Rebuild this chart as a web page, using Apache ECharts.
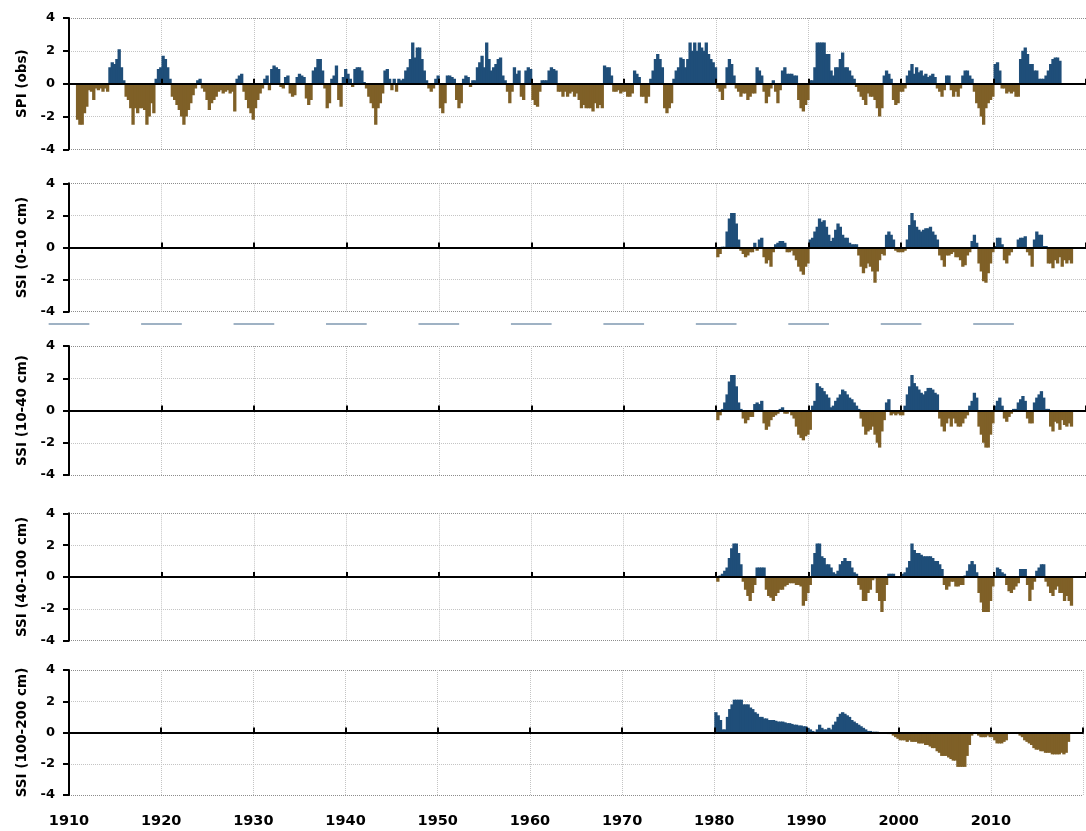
<!DOCTYPE html>
<html>
<head>
<meta charset="utf-8">
<script src="https://cdn.jsdelivr.net/npm/echarts@6/dist/echarts.min.js"></script>
<style>
html,body{margin:0;padding:0;background:#fff;}
#chart{width:1086px;height:831px;}
</style>
</head>
<body>
<div id="chart"></div>
<script>
// ---------------- DATA (quarterly values) ----------------
const STEP = 0.25;          // years per bar
const spiStart = 1910;      // first value of spi
const ssiStart = 1980;      // first value of the SSI series

const panelTitles = ['SPI (obs)', 'SSI (0-10 cm)', 'SSI (10-40 cm)', 'SSI (40-100 cm)', 'SSI (100-200 cm)'];
const decadeLabels = [1910, 1920, 1930, 1940, 1950, 1960, 1970, 1980, 1990, 2000, 2010];
const yTickValues = [-4, -2, 0, 2, 4];

const spi = [
  0, 0, 0, -2.2,            // 1910
  -2.5, -2.5, -1.8, -1.4,   // 1911
  -0.4, -0.5, -1.0, -0.3,   // 1912
  -0.4, -0.3, -0.5, -0.3,   // 1913
  -0.5, 1.0, 1.3, 1.2,      // 1914
  1.5, 2.1, 1.0, 0.2,       // 1915
  -0.8, -1.0, -1.5, -2.5,   // 1916
  -1.5, -1.8, -1.5, -1.5,   // 1917
  -1.6, -2.5, -2.0, -1.2,   // 1918
  -1.8, 0.3, 0.9, 1.0,      // 1919
  1.7, 1.5, 1.0, 0.3,       // 1920
  -0.8, -1.0, -1.3, -1.6,   // 1921
  -2.0, -2.5, -2.0, -1.6,   // 1922
  -1.2, -0.7, -0.3, 0.2,    // 1923
  0.3, -0.3, -0.5, -1.0,    // 1924
  -1.6, -1.2, -1.0, -0.8,   // 1925
  -0.5, -0.4, -0.6, -0.5,   // 1926
  -0.4, -0.6, -0.5, -1.7,   // 1927
  0.3, 0.5, 0.6, -0.5,      // 1928
  -1.0, -1.5, -1.8, -2.2,   // 1929
  -1.5, -1.0, -0.6, -0.3,   // 1930
  0.3, 0.5, -0.4, 0.9,      // 1931
  1.1, 1.0, 0.9, -0.2,      // 1932
  -0.3, 0.4, 0.5, -0.6,     // 1933
  -0.8, -0.7, 0.4, 0.6,     // 1934
  0.5, 0.4, -0.9, -1.3,     // 1935
  -1.0, 0.8, 1.0, 1.5,      // 1936
  1.5, 0.8, -0.3, -1.5,     // 1937
  -1.2, 0.3, 0.5, 1.1,      // 1938
  -1.0, -1.4, 0.4, 0.9,     // 1939
  0.6, 0.3, -0.2, 0.9,      // 1940
  1.0, 1.0, 0.8, 0.1,       // 1941
  -0.3, -0.8, -1.2, -1.5,   // 1942
  -2.5, -1.5, -1.2, -0.6,   // 1943
  0.8, 0.9, 0.3, -0.4,      // 1944
  0.3, -0.5, 0.3, 0.2,      // 1945
  0.3, 0.8, 1.0, 1.5,       // 1946
  2.5, 1.6, 2.2, 2.2,       // 1947
  1.5, 0.8, 0.2, -0.3,      // 1948
  -0.5, -0.3, 0.3, 0.5,     // 1949
  -1.5, -1.8, -1.2, 0.5,    // 1950
  0.5, 0.4, 0.3, -1.0,      // 1951
  -1.5, -1.2, 0.3, 0.5,     // 1952
  0.4, -0.2, 0.2, 0.2,      // 1953
  1.0, 1.3, 1.7, 1.0,       // 1954
  2.5, 1.5, 0.8, 1.0,       // 1955
  1.2, 1.5, 1.6, 0.5,       // 1956
  0.2, -0.5, -1.2, -0.5,    // 1957
  1.0, 0.6, 0.8, -0.8,      // 1958
  -1.0, 0.8, 1.0, 0.9,      // 1959
  -1.0, -1.3, -1.4, -0.5,   // 1960
  0.2, 0.2, 0.2, 0.8,       // 1961
  1.0, 0.9, 0.8, -0.5,      // 1962
  -0.5, -0.8, -0.5, -0.8,   // 1963
  -0.6, -0.5, -0.8, -0.6,   // 1964
  -1.0, -1.5, -1.3, -1.5,   // 1965
  -1.5, -1.5, -1.7, -1.2,   // 1966
  -1.5, -1.3, -1.5, 1.1,    // 1967
  1.0, 1.0, 0.5, -0.5,      // 1968
  -0.5, -0.4, -0.6, -0.5,   // 1969
  -0.5, -0.8, -0.8, -0.6,   // 1970
  0.8, 0.6, 0.4, -0.8,      // 1971
  -0.8, -1.2, -0.8, 0.3,    // 1972
  0.8, 1.5, 1.8, 1.5,       // 1973
  1.0, -1.5, -1.8, -1.5,    // 1974
  -1.2, 0.3, 0.8, 1.0,      // 1975
  1.6, 1.5, 1.0, 1.5,       // 1976
  2.5, 2.0, 2.5, 2.0,       // 1977
  2.5, 2.2, 2.0, 2.5,       // 1978
  1.8, 1.5, 1.3, 1.0,       // 1979
  -0.3, -0.5, -1.0, -0.3,   // 1980
  1.0, 1.5, 1.2, 0.5,       // 1981
  -0.3, -0.5, -0.8, -0.6,   // 1982
  -0.6, -1.0, -0.8, -0.6,   // 1983
  -0.6, 1.0, 0.8, 0.5,      // 1984
  -0.5, -1.2, -0.8, -0.3,   // 1985
  0.2, -0.5, -1.2, -0.4,    // 1986
  0.8, 1.0, 0.6, 0.6,       // 1987
  0.6, 0.5, 0.5, -1.0,      // 1988
  -1.5, -1.7, -1.3, -1.0,   // 1989
  0.2, 0.2, 1.0, 2.5,       // 1990
  2.5, 2.5, 2.5, 1.8,       // 1991
  1.8, 0.8, 0.5, 1.0,       // 1992
  1.0, 1.5, 1.9, 1.0,       // 1993
  1.0, 0.8, 0.5, 0.3,       // 1994
  -0.2, -0.5, -0.8, -1.0,   // 1995
  -1.3, -0.6, -0.8, -0.8,   // 1996
  -1.0, -1.5, -2.0, -1.5,   // 1997
  0.5, 0.8, 0.6, 0.3,       // 1998
  -1.0, -1.3, -1.2, -0.5,   // 1999
  -0.5, -0.3, 0.5, 0.8,     // 2000
  1.2, 0.6, 1.0, 0.7,       // 2001
  0.8, 0.5, 0.6, 0.4,       // 2002
  0.5, 0.6, 0.4, -0.3,      // 2003
  -0.5, -0.8, -0.4, 0.5,    // 2004
  0.5, -0.4, -0.8, -0.5,    // 2005
  -0.8, -0.3, 0.5, 0.8,     // 2006
  0.8, 0.5, 0.3, -0.5,      // 2007
  -1.2, -1.5, -2.0, -2.5,   // 2008
  -1.5, -1.2, -1.0, -0.8,   // 2009
  1.2, 1.3, 0.8, -0.3,      // 2010
  -0.3, -0.6, -0.5, -0.6,   // 2011
  -0.5, -0.8, -0.8, 1.5,    // 2012
  2.0, 2.2, 1.8, 1.2,       // 2013
  1.2, 0.8, 0.8, 0.3,       // 2014
  0.3, 0.3, 0.5, 0.8,       // 2015
  1.2, 1.5, 1.6, 1.6,       // 2016
  1.4                       // 2017
];

const ssi0_10 = [
  -0.6, -0.4, 0.05, 0.05,   // 1980
  1.0, 1.8, 2.15, 2.15,     // 1981
  1.5, 0.5, -0.2, -0.4,     // 1982
  -0.6, -0.5, -0.3, -0.3,   // 1983
  0.3, -0.2, 0.5, 0.6,      // 1984
  -0.6, -1.0, -0.8, -1.2,   // 1985
  -0.3, 0.2, 0.3, 0.4,      // 1986
  0.4, 0.3, -0.3, -0.3,     // 1987
  -0.2, -0.5, -0.8, -1.2,   // 1988
  -1.5, -1.7, -1.2, -1.0,   // 1989
  0.5, 0.6, 1.0, 1.3,       // 1990
  1.8, 1.6, 1.7, 1.3,       // 1991
  0.8, 0.4, 0.6, 1.1,       // 1992
  1.5, 1.3, 0.8, 0.6,       // 1993
  0.6, 0.3, 0.2, 0.2,       // 1994
  0.2, -0.5, -1.2, -1.6,    // 1995
  -1.3, -1.0, -1.2, -1.5,   // 1996
  -2.2, -1.5, -0.8, -0.4,   // 1997
  -0.5, 0.8, 1.0, 0.8,      // 1998
  0.5, -0.2, -0.3, -0.3,    // 1999
  -0.3, -0.2, 0.5, 1.4,     // 2000
  2.15, 1.7, 1.3, 1.1,      // 2001
  1.0, 1.1, 1.2, 1.2,       // 2002
  1.3, 1.0, 0.8, 0.5,       // 2003
  -0.5, -0.8, -1.2, -0.5,   // 2004
  -0.5, -0.4, -0.3, -0.6,   // 2005
  -0.6, -0.8, -1.2, -1.1,   // 2006
  -0.5, -0.3, 0.4, 0.8,     // 2007
  0.3, -1.0, -1.5, -2.1,    // 2008
  -2.2, -1.6, -1.0, -0.3,   // 2009
  0.1, 0.6, 0.6, 0.2,       // 2010
  -0.8, -1.0, -0.5, -0.3,   // 2011
  -0.1, -0.1, 0.5, 0.6,     // 2012
  0.6, 0.7, -0.3, -0.5,     // 2013
  -1.2, 0.5, 1.0, 0.8,      // 2014
  0.8, 0.1, 0.1, -1.0,      // 2015
  -1.0, -1.3, -0.8, -1.0,   // 2016
  -0.6, -1.2, -0.8, -1.0,   // 2017
  -0.8, -1.0                // 2018
];

const ssi10_40 = [
  -0.6, -0.3, 0.1, 0.5,     // 1980
  1.0, 1.8, 2.2, 2.2,       // 1981
  1.5, 0.5, 0.1, -0.5,      // 1982
  -0.8, -0.6, -0.4, -0.4,   // 1983
  0.4, 0.5, 0.4, 0.6,       // 1984
  -0.8, -1.2, -1.0, -0.6,   // 1985
  -0.4, -0.3, -0.2, 0.1,    // 1986
  0.2, -0.2, -0.2, -0.1,    // 1987
  -0.3, -0.5, -1.0, -1.5,   // 1988
  -1.7, -1.85, -1.6, -1.5,  // 1989
  -1.2, 0.3, 0.6, 1.7,      // 1990
  1.5, 1.4, 1.2, 1.0,       // 1991
  0.8, 0.2, 0.3, 0.6,       // 1992
  0.8, 1.0, 1.3, 1.2,       // 1993
  1.0, 0.8, 0.7, 0.5,       // 1994
  0.3, 0.1, -0.5, -1.0,     // 1995
  -1.5, -1.3, -1.2, -1.0,   // 1996
  -1.5, -2.0, -2.3, -1.3,   // 1997
  -0.6, 0.5, 0.7, -0.3,     // 1998
  -0.2, -0.3, -0.2, -0.3,   // 1999
  -0.3, 0.3, 1.0, 1.5,      // 2000
  2.2, 1.7, 1.5, 1.3,       // 2001
  1.1, 1.0, 1.2, 1.4,       // 2002
  1.4, 1.3, 1.1, 1.0,       // 2003
  -0.5, -1.0, -1.3, -0.8,   // 2004
  -0.5, -1.0, -0.5, -0.8,   // 2005
  -1.0, -1.0, -0.8, -0.5,   // 2006
  -0.3, 0.3, 0.6, 1.1,      // 2007
  0.8, -1.0, -1.5, -2.0,    // 2008
  -2.3, -2.3, -1.5, -0.8,   // 2009
  0.3, 0.6, 0.8, 0.3,       // 2010
  -0.5, -0.7, -0.4, -0.2,   // 2011
  0.1, 0.1, 0.5, 0.7,       // 2012
  0.9, 0.6, -0.5, -0.8,     // 2013
  -0.8, 0.5, 0.8, 1.0,      // 2014
  1.2, 0.8, 0.1, 0.1,       // 2015
  -1.0, -1.3, -0.7, -0.8,   // 2016
  -1.2, -0.6, -0.9, -1.0,   // 2017
  -0.8, -1.0                // 2018
];

const ssi40_100 = [
  -0.3, 0.1, 0.2, 0.4,      // 1980
  0.6, 1.2, 1.8, 2.1,       // 1981
  2.1, 1.5, 0.8, -0.3,      // 1982
  -0.8, -1.2, -1.5, -1.0,   // 1983
  -0.5, 0.6, 0.6, 0.6,      // 1984
  0.6, -0.8, -1.2, -1.3,    // 1985
  -1.5, -1.2, -1.0, -0.8,   // 1986
  -0.8, -0.6, -0.5, -0.4,   // 1987
  -0.4, -0.4, -0.5, -0.5,   // 1988
  -0.6, -1.8, -1.5, -1.0,   // 1989
  -0.5, 0.8, 1.5, 2.1,      // 1990
  2.1, 1.3, 1.2, 0.8,       // 1991
  0.8, 0.6, 0.3, 0.2,       // 1992
  0.4, 0.8, 1.0, 1.2,       // 1993
  1.0, 1.0, 0.6, 0.3,       // 1994
  0.2, -0.5, -0.8, -1.5,    // 1995
  -1.5, -1.0, -0.8, -0.2,   // 1996
  -0.1, -1.0, -1.5, -2.2,   // 1997
  -1.5, -0.5, 0.2, 0.2,     // 1998
  0.2, 0.05, 0.05, 0.05,    // 1999
  0.2, 0.3, 0.6, 1.0,       // 2000
  2.1, 1.7, 1.5, 1.5,       // 2001
  1.4, 1.3, 1.3, 1.3,       // 2002
  1.3, 1.2, 1.0, 1.0,       // 2003
  0.8, 0.5, -0.5, -0.8,     // 2004
  -0.6, -0.3, -0.3, -0.6,   // 2005
  -0.6, -0.5, -0.5, 0.1,    // 2006
  0.4, 0.8, 1.0, 0.8,       // 2007
  0.3, -1.0, -1.6, -2.2,    // 2008
  -2.2, -2.2, -1.5, -0.6,   // 2009
  0.1, 0.6, 0.5, 0.3,       // 2010
  0.2, -0.5, -0.9, -1.0,    // 2011
  -0.8, -0.6, -0.4, 0.5,    // 2012
  0.5, 0.5, -0.5, -1.5,     // 2013
  -0.8, -0.3, 0.4, 0.6,     // 2014
  0.8, 0.8, -0.3, -0.6,     // 2015
  -1.0, -1.2, -0.8, -0.6,   // 2016
  -1.0, -1.0, -1.5, -1.2,   // 2017
  -1.5, -1.8                // 2018
];

const ssi100_200 = [
  1.3, 1.1, 0.8, 0.2,       // 1980
  0.2, 1.0, 1.5, 1.8,       // 1981
  2.1, 2.1, 2.1, 2.1,       // 1982
  1.8, 1.8, 1.8, 1.6,       // 1983
  1.5, 1.3, 1.2, 1.0,       // 1984
  1.0, 0.9, 0.9, 0.8,       // 1985
  0.8, 0.8, 0.75, 0.7,      // 1986
  0.7, 0.7, 0.65, 0.6,      // 1987
  0.6, 0.55, 0.5, 0.5,      // 1988
  0.45, 0.45, 0.4, 0.4,     // 1989
  0.3, 0.2, 0.1, 0.05,      // 1990
  0.2, 0.5, 0.3, 0.2,       // 1991
  0.2, 0.3, 0.2, 0.5,       // 1992
  0.7, 1.0, 1.2, 1.3,       // 1993
  1.2, 1.1, 1.0, 0.8,       // 1994
  0.7, 0.6, 0.5, 0.4,       // 1995
  0.3, 0.2, 0.1, 0.1,       // 1996
  0.05, 0.05, 0.05, 0.02,   // 1997
  0, 0, 0, -0.1,            // 1998
  -0.1, -0.2, -0.3, -0.4,   // 1999
  -0.5, -0.5, -0.5, -0.6,   // 2000
  -0.5, -0.6, -0.6, -0.6,   // 2001
  -0.7, -0.7, -0.7, -0.8,   // 2002
  -0.8, -0.9, -1.0, -1.0,   // 2003
  -1.2, -1.3, -1.5, -1.5,   // 2004
  -1.5, -1.6, -1.7, -1.8,   // 2005
  -1.8, -2.2, -2.2, -2.2,   // 2006
  -2.2, -1.5, -0.8, -0.2,   // 2007
  -0.1, -0.1, -0.2, -0.3,   // 2008
  -0.3, -0.3, -0.2, -0.3,   // 2009
  -0.3, -0.5, -0.7, -0.7,   // 2010
  -0.7, -0.6, -0.5, -0.1,   // 2011
  -0.05, 0, 0, -0.1,        // 2012
  -0.2, -0.3, -0.5, -0.6,   // 2013
  -0.7, -0.8, -1.0, -1.1,   // 2014
  -1.1, -1.2, -1.2, -1.3,   // 2015
  -1.3, -1.3, -1.4, -1.4,   // 2016
  -1.4, -1.4, -1.3, -1.4,   // 2017
  -1.3, -0.6                // 2018
];

// ---------------- CHART ----------------
const BLUE = '#1F4E79';
const BROWN = '#7F6027';
const FONT = '"DejaVu Sans", sans-serif';
const X_MIN = 1910, X_MAX = 2020;

const panels = [
  { values: spi,        start: spiStart, top: 18,    height: 131.3 },
  { values: ssi0_10,    start: ssiStart, top: 183.3, height: 128.4 },
  { values: ssi10_40,   start: ssiStart, top: 346,   height: 129 },
  { values: ssi40_100,  start: ssiStart, top: 513.3, height: 127.4 },
  { values: ssi100_200, start: ssiStart, top: 670,   height: 125 }
];

function toPairs(values, start) {
  return values.map((v, i) => [start + i * STEP, v]);
}

function barItem(params, api) {
  const t = api.value(0), v = api.value(1);
  const a = api.coord([t, 0]);
  const b = api.coord([t + STEP, v]);
  const fill = v >= 0 ? BLUE : BROWN;
  return {
    type: 'rect',
    shape: { x: a[0], y: Math.min(a[1], b[1]), width: b[0] - a[0] + 1, height: Math.abs(b[1] - a[1]) },
    style: { fill: fill }
  };
}

function sepItem(params, api) {
  const d = api.value(0);
  const a = api.coord([d - 2.2, 0]);
  const b = api.coord([d + 2.2, 0]);
  return {
    type: 'line',
    shape: { x1: a[0], y1: a[1], x2: b[0], y2: b[1] },
    style: { stroke: '#7F98B0', lineWidth: 1.5 }
  };
}

const grid = [], xAxis = [], yAxis = [], series = [];

panels.forEach((p, i) => {
  grid.push({ left: 69, right: -14, top: p.top, height: p.height, containLabel: false });
  // axis A: vertical grid lines
  xAxis.push({
    gridIndex: i, type: 'value', min: X_MIN, max: X_MAX, interval: 10, position: 'top',
    axisLine: { show: false, onZero: false }, axisTick: { show: false }, axisLabel: { show: false },
    splitLine: { show: true, lineStyle: { type: 'dotted', color: '#c4c4c4', width: 1 } }
  });
  // axis B: zero line with upward ticks
  xAxis.push({
    gridIndex: i, type: 'value', min: X_MIN, max: X_MAX, interval: 10, position: 'bottom', z: 10,
    axisLine: { show: true, onZero: true, lineStyle: { color: '#000', width: 2 } },
    axisTick: { show: true, inside: true, length: 5, lineStyle: { color: '#000', width: 2 } },
    axisLabel: { show: false }, splitLine: { show: false }
  });
  yAxis.push({
    gridIndex: i, type: 'value', min: yTickValues[0], max: yTickValues[yTickValues.length - 1], interval: 2,
    name: panelTitles[i], nameLocation: 'middle', nameGap: 39,
    nameTextStyle: { fontFamily: FONT, fontWeight: 'bold', fontSize: 13.5, color: '#000' },
    axisLine: { show: true, onZero: false, lineStyle: { color: '#000', width: 2 } },
    axisTick: { show: true, length: 6, lineStyle: { color: '#000', width: 2 } },
    axisLabel: { fontFamily: FONT, fontWeight: 'bold', fontSize: 13, color: '#000', margin: 14 },
    splitLine: { show: true, lineStyle: { type: 'dotted', width: 1,
      color: ['#8c8c8c', '#c4c4c4', '#c4c4c4', '#c4c4c4', '#8c8c8c'] } }
  });
  series.push({
    type: 'custom', xAxisIndex: 2 * i, yAxisIndex: i, clip: true, silent: true,
    renderItem: barItem, encode: { x: 0, y: 1 },
    data: toPairs(p.values, p.start)
  });
});

// bottom labels axis
xAxis.push({
  gridIndex: 4, type: 'value', min: X_MIN, max: X_MAX, interval: 10, position: 'bottom',
  axisLine: { show: false, onZero: false }, axisTick: { show: false }, splitLine: { show: false },
  axisLabel: { show: true, margin: 19, fontFamily: FONT, fontWeight: 'bold', fontSize: 14.5, color: '#000',
    formatter: v => (v % 10 === 0 && v <= 2010) ? String(v) : '' }
});

// separator strip between panel 2 and 3
grid.push({ left: 69, right: -14, top: 318, height: 12, containLabel: false });
xAxis.push({ gridIndex: 5, type: 'value', min: X_MIN, max: X_MAX, show: false });
yAxis.push({ gridIndex: 5, type: 'value', min: -1, max: 1, show: false });
series.push({
  type: 'custom', xAxisIndex: xAxis.length - 1, yAxisIndex: yAxis.length - 1, clip: false, silent: true,
  renderItem: sepItem, encode: { x: 0 },
  data: decadeLabels.map(d => [d])
});

const chart = echarts.init(document.getElementById('chart'), null, { renderer: 'canvas' });
chart.setOption({
  animation: false,
  backgroundColor: '#fff',
  textStyle: { fontFamily: FONT },
  grid, xAxis, yAxis, series
});
</script>
</body>
</html>
